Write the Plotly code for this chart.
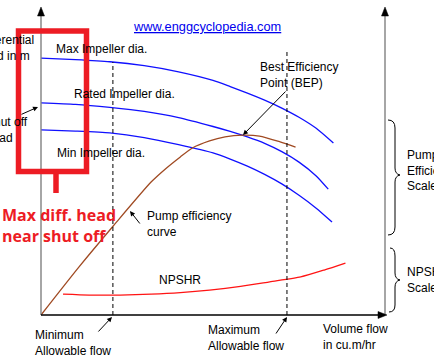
import plotly.graph_objects as go

W, H = 434, 362
# linear placement of the chart units on the canvas
X0_PX, XS = 41, 3.44
Y0_PX, YS = 315, 3.07

# ---- data (schematic units: flow 0-100, head 0-100) ----
flow_max = [0, 10, 20, 30, 40, 50, 55, 60, 65, 70, 75, 80, 85]
head_max = [83.7, 83.2, 82.5, 81.2, 79.2, 76.4, 74.4, 72.3, 70.0, 67.4, 64.4, 60.8, 56.0]
flow_rated = [0, 10, 20, 30, 40, 50, 55, 60, 65, 70, 75, 80, 83.5]
head_rated = [69.1, 68.6, 67.6, 66.3, 64.3, 61.4, 59.8, 58.0, 55.9, 53.2, 49.8, 45.3, 41.0]
flow_min = [0, 10, 20, 30, 40, 50, 55, 60, 65, 70, 75, 80, 84.6]
head_min = [60.3, 59.9, 59.3, 57.8, 55.5, 52.8, 50.8, 48.5, 45.8, 42.7, 39.0, 34.8, 30.3]
flow_eff = [0, 11, 21, 32, 36.5, 40.5, 44, 49, 53.5, 58.5, 63.5, 69.5, 74]
efficiency = [0, 15.6, 29.0, 43.3, 47.9, 51.5, 54.4, 56.7, 58.0, 58.6, 58.3, 56.4, 54.7]
flow_npshr = [6.4, 14, 23, 32, 40.5, 49, 58, 66.5, 75.5, 82.5, 88.5]
npshr = [6.8, 6.5, 6.5, 6.8, 7.3, 8.1, 9.3, 10.8, 12.4, 14.7, 16.9]
min_allowable_flow = 20.9
max_allowable_flow = 71.5
min_flow_line_top = 82.4
max_flow_line_top = 86.6

BLUE = "#1010ff"
BROWN = "#a04a22"
RED_LINE = "#ff1414"
RED = "#ed1c24"
GRAY = "#808080"
FONT = "Liberation Sans, Arial, sans-serif"


def px(x):
    return x / W


def py(y):
    return 1 - y / H


fig = go.Figure()
for fx, fy, col in [
    (flow_max, head_max, BLUE),
    (flow_rated, head_rated, BLUE),
    (flow_min, head_min, BLUE),
    (flow_eff, efficiency, BROWN),
    (flow_npshr, npshr, RED_LINE),
]:
    fig.add_trace(go.Scatter(x=fx, y=fy, mode="lines",
                             line=dict(color=col, width=1.3, shape="spline", smoothing=0.6),
                             hoverinfo="skip", showlegend=False))

shapes = []
# dashed allowable flow lines (data coords)
for fl, top in [(min_allowable_flow, min_flow_line_top), (max_allowable_flow, max_flow_line_top)]:
    shapes.append(dict(type="line", xref="x", yref="y", x0=fl, x1=fl, y0=0, y1=top,
                       line=dict(color="black", width=1, dash="4px,3px")))


def pline(x0, y0, x1, y1, color, width, dash="solid"):
    shapes.append(dict(type="line", xref="paper", yref="paper",
                       x0=px(x0), y0=py(y0), x1=px(x1), y1=py(y1),
                       line=dict(color=color, width=width, dash=dash)))


def ppath(cmds, color, width, fill=None):
    parts = []
    for c in cmds:
        op = c[0]
        nums = c[1:]
        coords = []
        for i in range(0, len(nums), 2):
            coords.append(f"{px(nums[i]):.5f},{py(nums[i+1]):.5f}")
        parts.append(op + " " + " ".join(coords))
    d = " ".join(parts)
    if fill:
        d += " Z"
    shapes.append(dict(type="path", xref="paper", yref="paper", path=d,
                       line=dict(color=color, width=width),
                       fillcolor=fill if fill else "rgba(0,0,0,0)"))


# axes
pline(41, 315, 41, 14, GRAY, 1.4)
pline(385, 315, 385, 14, GRAY, 1.4)
pline(41, 315, 379, 315, "black", 1.5)
ppath([("M", 41, 7), ("L", 37.5, 16), ("L", 44.5, 16)], "black", 0.5, "black")
ppath([("M", 385, 7), ("L", 381.5, 16), ("L", 388.5, 16)], "black", 0.5, "black")
ppath([("M", 387, 315), ("L", 378, 311.5), ("L", 378, 318.5)], "black", 0.5, "black")

# braces
ppath([("M", 388, 120), ("Q", 395, 120, 395, 128), ("L", 395, 168), ("Q", 395, 174, 400, 175),
       ("Q", 395, 176, 395, 182), ("L", 395, 227), ("Q", 395, 235, 388, 235)], "black", 1)
ppath([("M", 390, 248), ("Q", 395, 248, 395, 256), ("L", 395, 273), ("Q", 395, 279, 400, 280),
       ("Q", 395, 281, 395, 287), ("L", 395, 305), ("Q", 395, 312, 389, 312)], "black", 1)

# red highlight box + stem
shapes.append(dict(type="rect", xref="paper", yref="paper",
                   x0=px(18.5), x1=px(86.5), y0=py(31), y1=py(171.5),
                   line=dict(color=RED, width=5.5)))
pline(56, 171.5, 56, 193, RED, 5.5)

annotations = []


def label(text, x, y, size=12, color="black", family=FONT, weight="normal", **kw):
    annotations.append(dict(text=text, x=px(x), y=py(y), xref="paper", yref="paper",
                            xanchor="left", yanchor="middle", align="left", showarrow=False,
                            font=dict(size=size, color=color, family=family, weight=weight, **kw)))


def arrow(hx, hy, tx, ty):
    annotations.append(dict(text="", x=px(hx), y=py(hy), xref="paper", yref="paper",
                            ax=tx - hx, ay=ty - hy, showarrow=True, arrowhead=2,
                            arrowsize=1, arrowwidth=1, arrowcolor="black", standoff=0,
                            startstandoff=0))


label("www.enggcyclopedia.com", 131, 26, size=12.8, color="#0000ee", lineposition="under")
label("Differential<br>head in m", -25, 48)
label("Max Impeller dia.", 54, 49)
label("Rated Impeller dia.", 72, 94)
label("Min Impeller dia.", 55, 153)
label("Shut off<br>head", -16.5, 130.5)
label("Best Efficiency<br>Point (BEP)", 258, 75)
label("Pump efficiency<br>curve", 145, 223.5)
label("NPSHR", 157, 280)
label("Minimum<br>Allowable flow", 33, 342.5)
label("Maximum<br>Allowable flow", 206, 338)
label("Volume flow<br>in cu.m/hr", 321, 337)
label("Pump<br>Efficiency<br>Scale", 405, 171)
label("NPSHR<br>Scale", 405, 280)
label("Max diff. head<br>near shut off", 0, 226, size=16, color=RED,
      family="Open Sans, Noto Sans, sans-serif", weight="bold")

arrow(38, 107, 20, 115)
arrow(243, 135, 287, 90)
arrow(130, 211, 141, 225)
arrow(112, 317, 97, 333)
arrow(287, 317, 275, 335)

fig.update_layout(
    width=W, height=H, margin=dict(l=0, r=0, t=0, b=0),
    paper_bgcolor="white", plot_bgcolor="white",
    xaxis=dict(range=[-X0_PX / XS, (W - X0_PX) / XS], visible=False, fixedrange=True),
    yaxis=dict(range=[-(H - Y0_PX) / YS, Y0_PX / YS], visible=False, fixedrange=True),
    shapes=shapes, annotations=annotations, showlegend=False,
)

fig.write_html("out.html", config={"displayModeBar": False, "staticPlot": True},
               post_script="document.body.style.margin='0';document.body.style.padding='0';"
                           "document.documentElement.style.overflow='hidden';")
